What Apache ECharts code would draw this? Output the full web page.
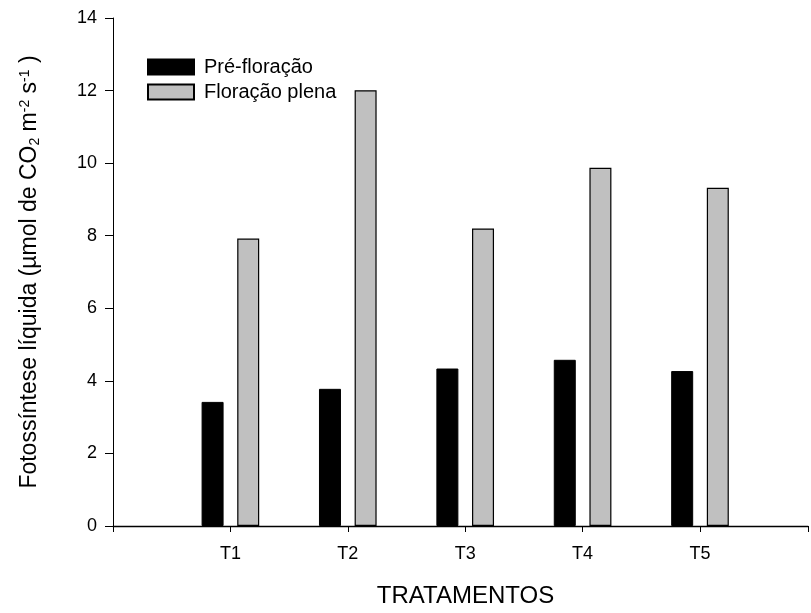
<!DOCTYPE html>
<html>
<head>
<meta charset="utf-8">
<script src="https://cdn.jsdelivr.net/npm/echarts@6/dist/echarts.min.js"></script>
<style>html,body{margin:0;padding:0;background:#fff;}#c{width:811px;height:613px;}</style>
</head>
<body>
<div id="c"></div>
<script>
var categories = ['T1', 'T2', 'T3', 'T4', 'T5'];
var preFloracao = [3.42, 3.78, 4.34, 4.58, 4.27];
var floracaoPlena = [7.92, 12.01, 8.20, 9.87, 9.32];
var yTicks = [0, 2, 4, 6, 8, 10, 12, 14];

var font = 'Arial, "Liberation Sans", sans-serif';
var chart = echarts.init(document.getElementById('c'), null, {renderer: 'canvas'});

function pairs(vals) {
  return vals.map(function (v, i) { return [i + 1, v]; });
}

chart.setOption({
  animation: false,
  backgroundColor: '#fff',
  grid: {left: 113, right: 0, top: 18, bottom: 84, containLabel: false},
  legend: {
    orient: 'vertical', left: 147, top: 57, padding: 0,
    itemWidth: 46, itemHeight: 15, itemGap: 5,
    icon: 'rect',
    textStyle: {fontFamily: font, fontSize: 20, color: '#000', padding: [0, 0, 0, 5]},
    data: ['Pré-floração', 'Floração plena']
  },
  xAxis: {
    type: 'value', min: 0, max: 5.92, interval: 1,
    name: 'TRATAMENTOS', nameLocation: 'middle', nameGap: 58,
    nameTextStyle: {fontFamily: font, fontSize: 24, color: '#000', padding: [0, 0, 0, 10]},
    axisLine: {show: true, lineStyle: {color: '#000', width: 1.3}},
    axisTick: {show: true, inside: false, length: 6, lineStyle: {color: '#000', width: 1}},
    axisLabel: {
      fontFamily: font, fontSize: 18, color: '#000', margin: 19,
      formatter: function (v) { return (v >= 1 && v <= categories.length) ? categories[v - 1] : ''; }
    },
    splitLine: {show: false}
  },
  yAxis: {
    type: 'value', min: yTicks[0], max: yTicks[yTicks.length - 1], interval: 2,
    name: '{a|Fotossíntese líquida (µmol de CO}{sub|2}{a| m}{sup|-2}{a| s}{sup|-1}{a| )}',
    nameLocation: 'middle', nameGap: 71, nameRotate: 90,
    nameTextStyle: {
      rich: {
        a: {fontFamily: font, fontSize: 23, color: '#000'},
        sub: {fontFamily: font, fontSize: 14, color: '#000', verticalAlign: 'bottom', padding: [8, 0, 0, 0]},
        sup: {fontFamily: font, fontSize: 14, color: '#000', verticalAlign: 'top', padding: [0, 0, 10, 0]}
      }
    },
    axisLine: {show: true, lineStyle: {color: '#000', width: 1}},
    axisTick: {show: true, inside: false, length: 8, lineStyle: {color: '#000', width: 1}},
    axisLabel: {fontFamily: font, fontSize: 18, color: '#000', margin: 16},
    splitLine: {show: false}
  },
  series: [
    {
      name: 'Pré-floração', type: 'bar', barWidth: 22, barGap: '62%',
      itemStyle: {color: '#000', borderColor: '#000', borderWidth: 1},
      data: pairs(preFloracao)
    },
    {
      name: 'Floração plena', type: 'bar', barWidth: 22,
      itemStyle: {color: '#c0c0c0', borderColor: '#000', borderWidth: 1.2},
      data: pairs(floracaoPlena)
    }
  ]
});
</script>
</body>
</html>
